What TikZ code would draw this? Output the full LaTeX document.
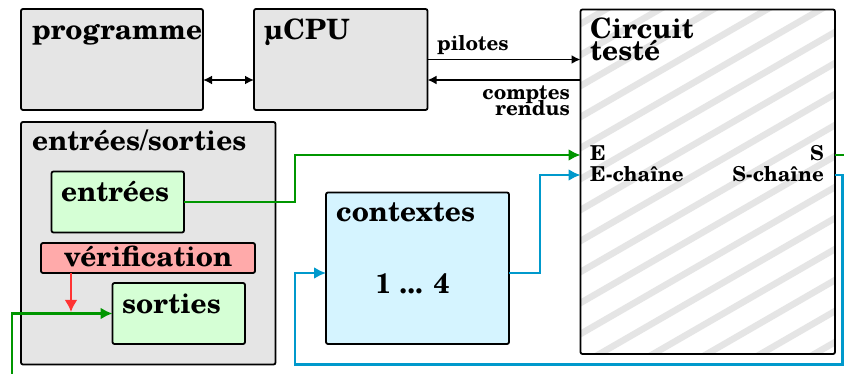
\documentclass[tikz,border=0pt]{standalone}
\usepackage{fontspec}
\setmainfont{texgyreschola-bold.otf}
\usetikzlibrary{arrows.meta}
\definecolor{boxgray}{RGB}{229,229,229}
\definecolor{lgreen}{RGB}{213,255,213}
\definecolor{lcyan}{RGB}{213,244,255}
\definecolor{lpink}{RGB}{255,170,170}
\definecolor{cgreen}{RGB}{0,150,0}
\definecolor{cblue}{RGB}{0,153,204}
\definecolor{cred}{RGB}{255,51,51}
\tikzset{
  box/.style={draw=black, line width=1.8pt, rounded corners=2pt, inner sep=0pt, outer sep=0pt, anchor=north west},
  big/.style={font=\fontsize{28}{27}\selectfont, inner sep=0pt, anchor=base west},
  small/.style={font=\fontsize{20.5}{19}\selectfont, inner sep=0pt, anchor=base west},
  blk/.style={draw=black, line width=1.8pt, -{Latex[length=9pt,width=9pt]}},
  garr/.style={draw=cgreen, line width=2.8pt, -{Latex[length=12pt,width=12pt]}},
  barr/.style={draw=cblue, line width=2.8pt, -{Latex[length=12pt,width=12pt]}},
  rarr/.style={draw=cred, line width=2.8pt, -{Latex[length=12pt,width=13pt]}},
  stripe/.style={draw=boxgray, line width=6.5pt},
}
\begin{document}
\begin{tikzpicture}[x=1pt,y=-1pt]
\useasboundingbox (0,0) rectangle (844,374);
\fill[white] (0,0) rectangle (844,374);
% hatching of the tested circuit
\begin{scope}
\clip (580.5,9.5) rectangle (835,354);
\foreach \k in {-10,...,9}{
  \pgfmathsetmacro{\ya}{278+31*\k}
  \pgfmathsetmacro{\yb}{113+31*\k}
  \draw[stripe] (570,\ya) -- (856,\yb);
}
\end{scope}
% boxes
\node[box, fill=boxgray, minimum width=182pt, minimum height=101pt] (prog) at (21,9) {};
\node[box, fill=boxgray, minimum width=173.5pt, minimum height=101pt] (cpu) at (254,9) {};
\node[box, minimum width=254.5pt, minimum height=344.5pt] (circ) at (580.5,9.5) {};
\node[box, fill=boxgray, minimum width=254.5pt, minimum height=242.5pt] (es) at (21,122) {};
\node[box, fill=lgreen, minimum width=132.5pt, minimum height=61pt] (ent) at (51.5,171.5) {};
\node[box, fill=lpink, minimum width=214pt, minimum height=30pt] (verif) at (41,243) {};
\node[box, fill=lgreen, minimum width=132.5pt, minimum height=61pt] (sor) at (112.5,283) {};
\node[box, fill=lcyan, minimum width=183pt, minimum height=151.5pt] (ctx) at (326,192.5) {};
% texts
\node[big] (tprog) at (32,40) {programme};
\node[big] (tcpu) at (264,40) {µCPU};
\node[big] (tcirc1) at (590,39) {Circuit};
\node[big] (tcirc2) at (590,61) {testé};
\node[small] (tpil) at (437,51) {pilotes};
\node[small, anchor=base east] (tcomp) at (570,100) {comptes};
\node[small, anchor=base east] (trend) at (570,116) {rendus};
\node[small] (tE) at (590,161) {E};
\node[small] (tEc) at (590,182) {E-chaîne};
\node[small, anchor=base east] (tS) at (824,161) {S};
\node[small, anchor=base east] (tSc) at (824,182) {S-chaîne};
\node[big] (tes) at (32,151) {entrées/sorties};
\node[big] (tent) at (61,202) {entrées};
\node[big, anchor=base] (tver) at (148,267) {vérification};
\node[big] (tsor) at (122,313) {sorties};
\node[big] (tctx) at (336,222) {contextes};
\node[big, anchor=base] (tnum) at (412.5,294) {1 ... 4};
% coordinates
\coordinate (pa) at ([yshift=-20.5pt]prog.east);
\coordinate (cr) at ([yshift=-20.5pt]cpu.east);
\coordinate (E) at (circ.west |- 0,155);
\coordinate (EC) at (circ.west |- 0,175);
\coordinate (S) at (circ.east |- 0,155);
\coordinate (SC) at (circ.east |- 0,175);
\coordinate (co) at (ctx.east |- 0,273);
\coordinate (ci) at (ctx.west |- 0,273);
\coordinate (si) at (sor.west |- 0,313.5);
\coordinate (rv) at (verif.south -| 71,0);
\coordinate (rt) at (71,312);
% connectors
\draw[blk, {Latex[length=9pt,width=9pt]}-{Latex[length=9pt,width=9pt]}] (pa) -- (pa -| cpu.west);
\draw[blk] (cpu.east) -- (cpu.east -| circ.west);
\draw[blk] (cr -| circ.west) -- (cr);
\draw[garr] (ent.east) -- (ent.east -| 295,0) |- (E);
\draw[barr] (co) -- (co -| 540,0) |- (EC);
\draw[barr] (SC) -| (842.5,364.5) -| (295,273) -- (ci);
\draw[garr] (S) -| (852,375.2) -| (12,313.5) -- (si);
\draw[rarr] (rv) -- (rt);
\end{tikzpicture}
\end{document}
